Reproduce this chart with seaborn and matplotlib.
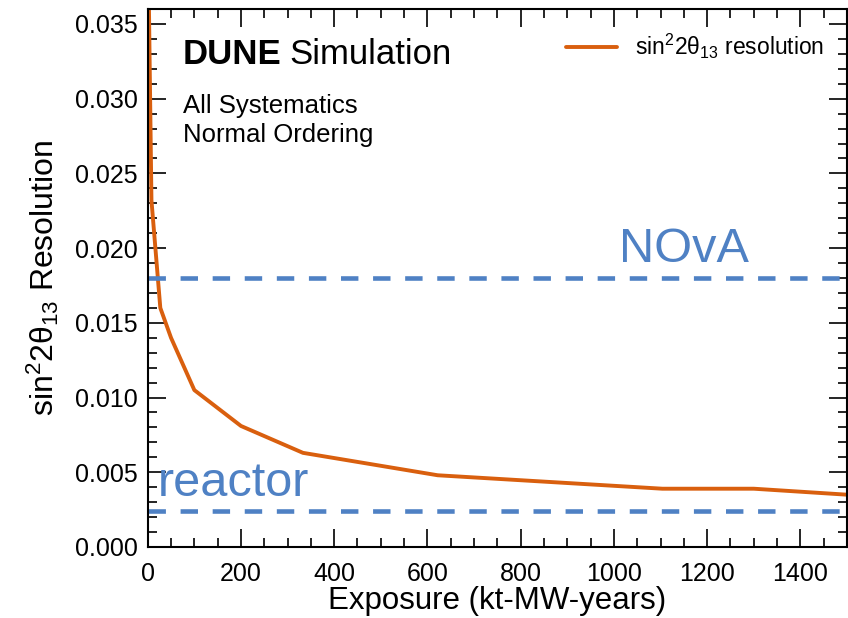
import matplotlib
matplotlib.use("Agg")
import matplotlib.pyplot as plt
import seaborn as sns
import pandas as pd
from matplotlib.ticker import MultipleLocator, FormatStrFormatter

# DUNE sin^2 2theta13 resolution vs exposure
exposure = [1, 8, 27, 50, 100, 200, 333, 622, 1104, 1300, 1500]
resolution = [0.0400, 0.0232, 0.0160, 0.0140, 0.0105, 0.0081, 0.0063, 0.0048, 0.0039, 0.0039, 0.0035]

nova_res = 0.0180
reactor_res = 0.0024

df = pd.DataFrame({"exposure": exposure, "resolution": resolution})

sns.set_style("ticks")
plt.rcParams["font.family"] = ["Liberation Sans", "DejaVu Sans"]
plt.rcParams["mathtext.default"] = "regular"
plt.rcParams["mathtext.fontset"] = "custom"
plt.rcParams["mathtext.rm"] = "Liberation Sans"
plt.rcParams["text.color"] = "black"
plt.rcParams["axes.labelcolor"] = "black"
plt.rcParams["xtick.color"] = "black"
plt.rcParams["ytick.color"] = "black"

orange = "#d95f0e"
blue = "#4f81c4"

fig = plt.figure(figsize=(8.48, 6.18), dpi=100)
ax = fig.add_axes([0.1742, 0.1149, 0.8246, 0.8705])

sns.lineplot(data=df, x="exposure", y="resolution", ax=ax, color=orange,
             linewidth=2.8, label="sin$^2$2θ$_{13}$ resolution")

ax.axhline(nova_res, color=blue, linewidth=3.3, dashes=(3.8, 3.2))
ax.axhline(reactor_res, color=blue, linewidth=3.3, dashes=(3.8, 3.2))
ax.text(1290, nova_res + 0.0011, "NOvA", color=blue, fontsize=35, ha="right", va="baseline")
ax.text(22, reactor_res + 0.0010, "reactor", color=blue, fontsize=35, ha="left", va="baseline")

ax.set_xlim(0, 1500)
ax.set_ylim(0, 0.036)
ax.xaxis.set_major_locator(MultipleLocator(200))
ax.xaxis.set_minor_locator(MultipleLocator(50))
ax.yaxis.set_major_locator(MultipleLocator(0.005))
ax.yaxis.set_minor_locator(MultipleLocator(0.001))
ax.yaxis.set_major_formatter(FormatStrFormatter("%.3f"))
ax.tick_params(which="both", direction="in", top=True, right=True, labelsize=18, width=1.2)
ax.tick_params(which="major", length=13)
ax.tick_params(which="minor", length=6.5)
ax.tick_params(axis="x", which="both", pad=11)
ax.tick_params(axis="y", which="both", pad=7)
for sp in ax.spines.values():
    sp.set_linewidth(1.5)
    sp.set_color("black")

ax.set_xlabel("Exposure (kt-MW-years)", fontsize=22.5, labelpad=0)
ax.set_ylabel("sin$^2$2θ$_{13}$ Resolution", fontsize=23, labelpad=10)

fig.canvas.draw()
dune = ax.text(0.05, 0.915, "DUNE", fontsize=25, fontweight="bold", transform=ax.transAxes, va="center")
bb = dune.get_window_extent(fig.canvas.get_renderer()).transformed(ax.transAxes.inverted())
ax.text(bb.x1 + 0.012, 0.915, "Simulation", fontsize=25, transform=ax.transAxes, va="center")
ax.text(0.05, 0.82, "All Systematics", fontsize=18.5, transform=ax.transAxes, va="center")
ax.text(0.05, 0.765, "Normal Ordering", fontsize=18.5, transform=ax.transAxes, va="center")

ax.legend(loc="upper right", frameon=False, fontsize=16.5, handlelength=2.2,
          handletextpad=0.8, borderaxespad=0.6)

fig.savefig("out.png", dpi=100)
